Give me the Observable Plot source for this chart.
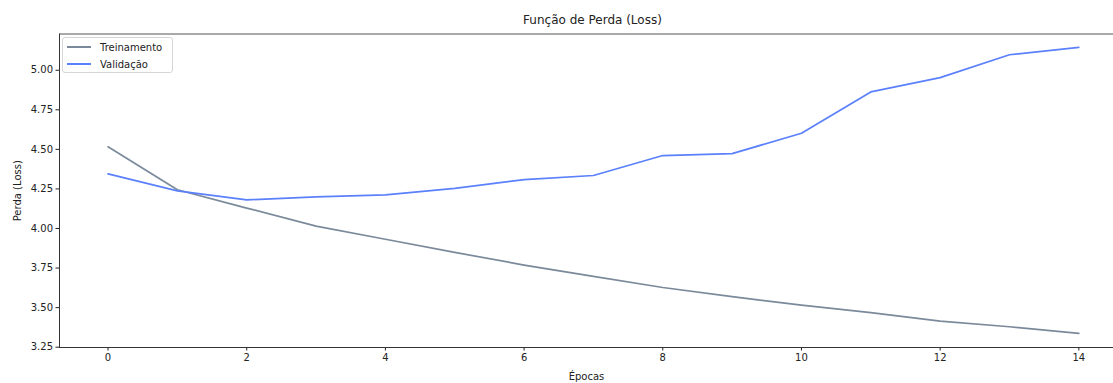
<!DOCTYPE html>
<html>
<head>
<meta charset="utf-8">
<script src="https://cdn.jsdelivr.net/npm/d3@7"></script>
<script src="https://cdn.jsdelivr.net/npm/@observablehq/plot@0.6"></script>
<style>
  html, body { margin: 0; padding: 0; background: #fff; overflow: hidden; }
  body { width: 1113px; height: 383px; position: relative; font-family: "DejaVu Sans", sans-serif; }
  #title { position: absolute; left: 59px; width: 1067px; top: 13px; text-align: center; font-size: 12px; color: #222; line-height: 14px; }
  #chart { position: absolute; left: 0; top: 33px; }
  #legend { position: absolute; left: 62px; top: 37px; width: 109px; height: 34px; border: 1px solid #d6d6d6; border-radius: 3px; background: rgba(255,255,255,0.8); font-size: 10px; color: #222; }
  .row { position: absolute; left: 4px; height: 12px; display: flex; align-items: center; }
  .sw { display: block; width: 24px; height: 2px; margin-right: 9px; }
</style>
</head>
<body>
<div id="title">Função de Perda (Loss)</div>
<div id="chart"></div>
<div id="legend"></div>
<script>
const epochs = [0,1,2,3,4,5,6,7,8,9,10,11,12,13,14];
const treino = [4.516,4.245,4.129,4.015,3.932,3.849,3.769,3.697,3.627,3.569,3.516,3.468,3.415,3.379,3.337];
const validacao = [4.345,4.238,4.181,4.200,4.212,4.253,4.309,4.335,4.461,4.473,4.602,4.863,4.953,5.098,5.145];
const seriesNames = ["Treinamento", "Validação"];
const seriesColors = ["#7b8a9b", "#5b80fc"];
const xTicks = [0,2,4,6,8,10,12,14];
const yTicks = [3.25,3.50,3.75,4.00,4.25,4.50,4.75,5.00];
const xDomain = [-0.7, 14.5];
const yDomain = [3.248, 5.229];

const rows = [];
epochs.forEach((e,i) => rows.push({epoca: e, perda: treino[i], serie: seriesNames[0]}));
epochs.forEach((e,i) => rows.push({epoca: e, perda: validacao[i], serie: seriesNames[1]}));

const plot = Plot.plot({
  width: 1113,
  height: 350,
  marginLeft: 59,
  marginRight: 0,
  marginTop: 0.5,
  marginBottom: 36,
  style: {fontFamily: "DejaVu Sans, sans-serif", fontSize: "10px", color: "#222", background: "transparent"},
  x: {domain: xDomain},
  y: {domain: yDomain},
  color: {domain: seriesNames, range: seriesColors},
  marks: [
    Plot.axisX({ticks: xTicks, tickSize: 3.5, tickPadding: 3, label: "Épocas", labelArrow: false, labelAnchor: "center", labelOffset: 32, fontSize: 10}),
    Plot.axisY({ticks: yTicks, tickSize: 3.5, tickPadding: 3, tickFormat: d3.format(".2f"), label: "Perda (Loss)", labelArrow: false, labelAnchor: "center", labelOffset: 46, fontSize: 10}),
    Plot.ruleX([xDomain[0]], {stroke: "#333", strokeWidth: 1}),
    Plot.ruleY([yDomain[0]], {stroke: "#333", strokeWidth: 1}),
    Plot.ruleY([yDomain[1]], {stroke: "#555", strokeWidth: 1}),
    Plot.line(rows, {x: "epoca", y: "perda", z: "serie", stroke: "serie", strokeWidth: 1.7})
  ]
});
document.getElementById("chart").appendChild(plot);

const leg = document.getElementById("legend");
seriesNames.forEach((n, i) => {
  const r = document.createElement("div");
  r.className = "row";
  r.style.top = (3 + i * 17) + "px";
  const sw = document.createElement("span");
  sw.className = "sw";
  sw.style.background = seriesColors[i];
  const t = document.createElement("span");
  t.textContent = n;
  r.appendChild(sw);
  r.appendChild(t);
  leg.appendChild(r);
});
</script>
</body>
</html>
